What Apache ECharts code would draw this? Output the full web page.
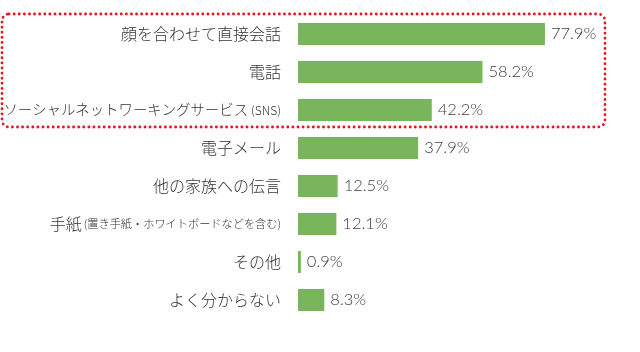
<!DOCTYPE html>
<html>
<head>
<meta charset="utf-8">
<script src="https://cdn.jsdelivr.net/npm/echarts@6/dist/echarts.min.js"></script>
<style>
  html, body { margin: 0; padding: 0; background: #fff; }
  #chart { width: 640px; height: 352px; }
</style>
</head>
<body>
<div id="chart"></div>
<script>
// 項目（上から順）
const categories = [
  '顔を合わせて直接会話',
  '電話',
  'ソーシャルネットワーキングサービス(SNS)',
  '電子メール',
  '他の家族への伝言',
  '手紙(置き手紙・ホワイトボードなどを含む)',
  'その他',
  'よく分からない'
];
// 回答割合 (%)
const values = [77.9, 58.2, 42.2, 37.9, 12.5, 12.1, 0.9, 8.3];

const chart = echarts.init(document.getElementById('chart'));

const fontJa = '"Noto Sans CJK JP", sans-serif';

// 括弧内は小さい文字で表示（SNS の行は全体を少し詰める）
const formatLabel = (v) => {
  const i = v.indexOf('(');
  if (i < 0) return '{m|' + v + '}';
  const main = v.slice(0, i), sub = v.slice(i);
  if (sub === '(SNS)') return '{k|' + main + '}{s|' + sub + '}';
  return '{m|' + main + '}{t|' + sub + '}';
};

chart.setOption({
  animation: false,
  grid: { left: 298, right: 25, top: 15, bottom: 33 },
  xAxis: {
    type: 'value',
    min: 0,
    max: 100,
    show: false
  },
  yAxis: {
    type: 'category',
    inverse: true,
    data: categories,
    axisLine: { show: false },
    axisTick: { show: false },
    axisLabel: {
      margin: 17,
      formatter: formatLabel,
      rich: {
        m: { fontSize: 16, fontWeight: 300, color: '#333', fontFamily: fontJa },
        k: { fontSize: 14.4, fontWeight: 300, color: '#333', fontFamily: fontJa },
        s: { fontSize: 12, fontWeight: 300, color: '#333', fontFamily: fontJa, padding: [0, 0, 0, 3] },
        t: { fontSize: 11.2, fontWeight: 300, color: '#333', fontFamily: fontJa, padding: [0, 0, 0, 2] }
      }
    }
  },
  series: [{
    type: 'bar',
    data: values,
    barWidth: 22,
    itemStyle: { color: '#79b55b' },
    label: {
      show: true,
      position: 'right',
      distance: 6,
      formatter: '{c}%',
      fontSize: 16.5,
      fontWeight: 300,
      color: '#3c3c3c',
      fontFamily: 'Lato, "Noto Sans", sans-serif'
    }
  }],
  // 上位3項目を囲む赤い点線枠
  graphic: [{
    type: 'rect',
    shape: { x: 2, y: 14, width: 603, height: 113, r: 7 },
    style: {
      fill: 'none',
      stroke: '#e8141e',
      lineWidth: 2.8,
      lineDash: [0.1, 5],
      lineCap: 'round'
    },
    silent: true
  }]
});
</script>
</body>
</html>
